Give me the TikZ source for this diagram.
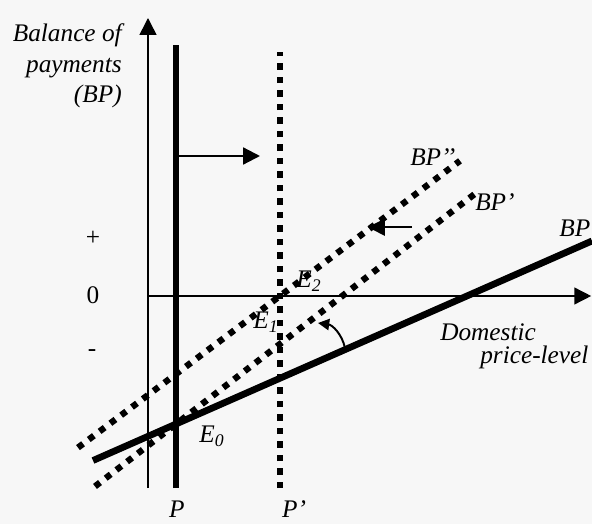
\documentclass[tikz,border=0pt]{standalone}
\usepackage{fontspec}
\setmainfont{Liberation Serif}
\usetikzlibrary{arrows.meta}
\tikzset{
  axisline/.style={line width=1.1pt, -{Triangle[length=12pt,width=12pt]}},
  movearrow/.style={line width=1.6pt, -{Triangle[length=12pt,width=12pt]}},
  thickline/.style={line width=4.8pt},
  dotline/.style={line width=4.5pt, dash pattern=on 4.5pt off 5.1pt},
  lbl/.style={font=\fontsize{18}{21.5}\selectfont\itshape, inner sep=0pt},
  ticklbl/.style={font=\fontsize{18}{21.5}\selectfont, inner sep=0pt}
}
\begin{document}
\begin{tikzpicture}
      \fill [black!3] (-3.7,-5.7) rectangle (11.1,7.4);
      \useasboundingbox (-3.7,-5.7) rectangle (11.1,7.4);
      % axes
      \draw [axisline] (0,-4.8) -- (0,6.95);
      \draw [axisline] (0,0) -- (11.08,0);
      \node [lbl, align=right, anchor=east] (bpaxis) at (-0.65,5.75) {Balance of\\payments\\(BP)};
      \node [ticklbl] (plus) at (-1.375,1.45) {+};
      \node [ticklbl] (zero) at (-1.375,0.03) {0};
      \node [ticklbl] (minus) at (-1.4,-1.43) {-};
      \node [lbl, anchor=west] (dom) at (7.3,-0.9) {Domestic};
      \node [lbl, anchor=west] (price) at (8.3,-1.525) {price-level};
      % price levels
      \draw [thickline] (0.7,-4.8) -- (0.7,6.275);
      \draw [dotline] (3.3,-4.8) -- (3.3,6.1);
      \node [lbl] (p) at (0.72,-5.33) {P};
      \node [lbl] (pp) at (3.65,-5.33) {P’};
      \draw [movearrow] (0.7,3.5) -- (2.8,3.5);
      % BP curves
      \draw [thickline] (-1.375,-4.113) -- (11.1,1.376);
      \draw [dotline] (-1.325,-4.76) -- (8.225,2.594);
      \draw [dotline] (-1.75,-3.79) -- (7.8,3.38);
      \node [lbl, anchor=west] (bp) at (10.28,1.7) {BP};
      \node [lbl, anchor=west] (bpone) at (8.175,2.35) {BP’};
      \node [lbl, anchor=west] (bptwo) at (6.55,3.475) {BP’’};
      \draw [movearrow] (6.6,1.72) -- (5.5,1.72);
      \draw [line width=1.4pt, -{Triangle[length=8pt,width=8pt]}] (4.925,-1.3) to [bend right=35] (4.25,-0.675);
      % equilibria
      \node [lbl] (e0) at (1.6,-3.5) {E\textsubscript{0}};
      \node [lbl] (e1) at (2.95,-0.65) {E\textsubscript{1}};
      \node [lbl] (e2) at (4.025,0.375) {E\textsubscript{2}};
\end{tikzpicture}
\end{document}
